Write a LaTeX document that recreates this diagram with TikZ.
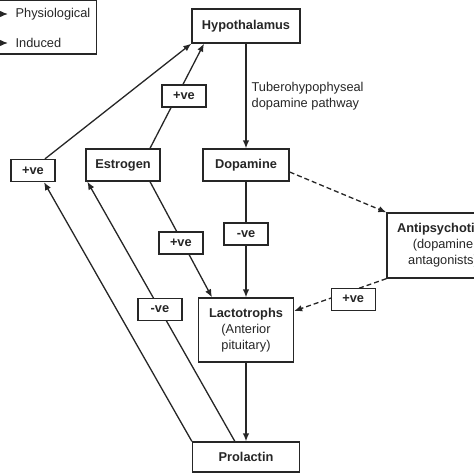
\documentclass[tikz,border=0pt]{standalone}
\usepackage{fontspec}
\setmainfont{Liberation Sans}
\usetikzlibrary{arrows.meta}
\begin{document}
\begin{tikzpicture}[x=1pt,y=-1pt,line width=1.3pt,draw=black!85,
  every node/.style={font=\fontsize{12.8}{16}\selectfont,text=black!85},
  box/.style={draw,solid,fill=white,inner sep=0pt,align=center},
  sign/.style={box,minimum width=44pt,minimum height=22pt,font=\fontsize{12.8}{16}\selectfont\bfseries},
  arr/.style={-{Latex[length=8pt,width=6.5pt]}},
  drug/.style={arr,dash pattern=on 5pt off 3pt}]
\useasboundingbox (0,0) rectangle (474,474);
\clip (0,0) rectangle (474,474);
\node[box,minimum width=108pt,minimum height=34pt] (hypo) at (246,26) {\textbf{Hypothalamus}};
\node[box,minimum width=86pt,minimum height=32pt] (dopa) at (246,165) {\textbf{Dopamine}};
\node[box,minimum width=74pt,minimum height=32pt] (estro) at (123,165) {\textbf{Estrogen}};
\node[box,minimum width=95pt,minimum height=64pt] (lacto) at (246,330) {\textbf{Lactotrophs}\\(Anterior\\pituitary)};
\node[box,minimum width=107pt,minimum height=30pt] (prol) at (246,457) {\textbf{Prolactin}};
\node[box,minimum width=112pt,minimum height=65pt] (anti) at (443,245.5) {\textbf{Antipsychotics}\\(dopamine\\antagonists)};
\node[sign] (pvL) at (33,170.5) {+ve};
\draw[arr] (hypo) -- node[right,align=left,inner sep=5pt] {Tuberohypophyseal\\dopamine pathway} (dopa);
\draw[arr] (dopa) -- node[sign,pos=0.453] {-ve} (lacto);
\draw[arr] (lacto) -- (prol);
\draw[arr] ([xshift=27pt]estro.north) -- node[sign,pos=0.5,xshift=7pt] {+ve} ([xshift=-42pt]hypo.south);
\draw[arr] ([xshift=27pt]estro.south) -- node[sign,pos=0.53,xshift=-2pt] {+ve} ([xshift=-34pt]lacto.north);
\draw[arr] (prol.north west) -- ([xshift=11pt]pvL.south);
\draw[arr] ([xshift=12pt]pvL.north) -- (hypo.south west);
\draw[arr] ([xshift=43pt]prol.north west) -- node[sign,pos=0.508] {-ve} ([xshift=2pt]estro.south west);
\draw[drug] ([yshift=-7pt]dopa.east) -- (anti.north west);
\draw[drug] (anti.south west) -- node[sign,pos=0.36,yshift=-9pt] {+ve} ([yshift=19pt]lacto.east);
% legend
\node[anchor=west,inner sep=0pt] (phys) at (15,14) {Physiological};
\node[anchor=west,inner sep=0pt] (induc) at (15,43) {Induced};
\draw[arr] ([xshift=-40pt]phys.west) -- ([xshift=-7pt]phys.west);
\draw[drug] ([xshift=-40pt]induc.west) -- ([xshift=-7pt]induc.west);
\draw (-60,0.5) rectangle (96.5,54);
\end{tikzpicture}
\end{document}
